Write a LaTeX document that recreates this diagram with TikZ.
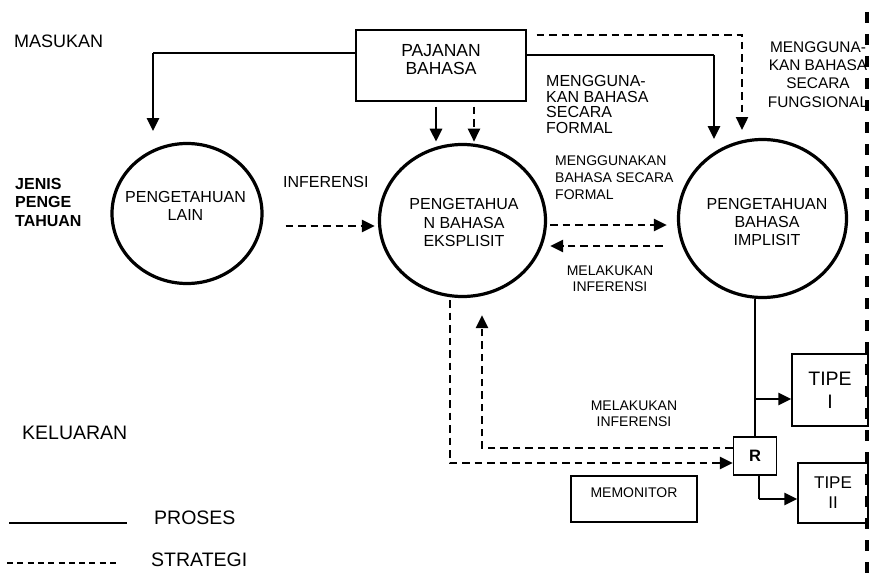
\documentclass[tikz,border=0pt]{standalone}
\usepackage{fontspec}
\setmainfont{Liberation Sans}
\usetikzlibrary{arrows.meta,shapes.geometric,calc}
\newcommand{\fsz}[2]{\fontsize{#1}{#2}\selectfont}

\begin{document}
\begin{tikzpicture}[x=1pt,y=-1pt,
  tx/.style={inner sep=0pt, align=center},
  box/.style={draw, line width=1.4pt, inner sep=0pt, align=center},
  circ/.style={ellipse, draw, line width=3.2pt, inner sep=0pt},
  pline/.style={line width=1.4pt},
  parrow/.style={line width=2.8pt, -{Triangle[length=13pt,width=12pt]}},
  sline/.style={line width=2.4pt, dash pattern=on 7.5pt off 5pt},
  sarrow/.style={sline, -{Triangle[length=13pt,width=12pt]}},
  legdash/.style={line width=2.2pt, dash pattern=on 6pt off 4.3pt},
  border/.style={line width=3.8pt, dash pattern=on 11pt off 11pt}]
\useasboundingbox (0,0) rectangle (870,578);

% row labels
\node[tx, anchor=west, font=\fsz{18}{18}] (mas) at (14,41) {MASUKAN};
\node[tx, anchor=west, align=left, font=\bfseries\fsz{16}{18.5}] (jenis) at (15,202) {JENIS\\PENGE\\TAHUAN};
\node[tx, anchor=west, font=\fsz{19.5}{20}] (kel) at (22,433) {KELUARAN};

% input box
\node[box, minimum width=170pt, minimum height=71pt] (paj) at (441,65.5) {};
\node[tx, font=\fsz{17.5}{18}] (pajt) at (441,60) {PAJANAN\\BAHASA};

% knowledge types
\node[circ, minimum width=150pt, minimum height=140pt] (lain) at (187,213.5) {};
\node[tx, font=\fsz{16}{17.5}] (laint) at (185.5,206) {PENGETAHUAN\\LAIN};
\node[circ, minimum width=166pt, minimum height=152pt] (eks) at (462.5,220.5) {};
\node[tx, font=\fsz{16}{18.3}] (ekst) at (464,222.5) {PENGETAHUA\\N BAHASA\\EKSPLISIT};
\node[circ, minimum width=168pt, minimum height=158pt] (imp) at (762.5,218.5) {};
\node[tx, font=\fsz{16}{18}] (impt) at (767,222) {PENGETAHUAN\\BAHASA\\IMPLISIT};

% arrow labels
\node[tx, anchor=west, align=left, font=\fsz{16}{15.7}] (formal1) at (546,104.5) {MENGGUNA-\\KAN BAHASA\\SECARA\\FORMAL};
\node[tx, font=\fsz{15.4}{18.3}] (fungs) at (818,74.5) {MENGGUNA-\\KAN BAHASA\\SECARA\\FUNGSIONAL};
\node[tx, anchor=west, font=\fsz{16}{16}] (inf1) at (283,182) {INFERENSI};
\node[tx, anchor=west, align=left, font=\fsz{14}{17}] (formal2) at (555,178) {MENGGUNAKAN\\BAHASA SECARA\\FORMAL};
\node[tx, font=\fsz{14}{16}] (inf2) at (610,279) {MELAKUKAN\\INFERENSI};
\node[tx, font=\fsz{14}{16}] (inf3) at (634,414) {MELAKUKAN\\INFERENSI};

% output part
\node[box, minimum width=43pt, minimum height=38pt, font=\bfseries\fsz{16.5}{16.5}] (R) at (755,456) {R};
\node[box, minimum width=76pt, minimum height=72pt, font=\fsz{19.5}{23}] (tipeI) at (830,390) {TIPE\\I};
\node[box, minimum width=70pt, minimum height=60pt, font=\fsz{17}{20}] (tipeII) at (833,493) {TIPE\\II};
\node[box, minimum width=126pt, minimum height=46pt] (mon) at (634,499) {};
\node[tx, font=\fsz{14}{14}] (mont) at (634,493) {MEMONITOR};

% legend
\node[tx, anchor=west, font=\fsz{19.5}{20}] (pro) at (154,518) {PROSES};
\node[tx, anchor=west, font=\fsz{19.5}{20}] (str) at (151,560) {STRATEGI};
\draw[pline] ($(pro.west)+(-145,5)$) -- +(118,0);
\draw[legdash] ($(str.west)+(-144,3)$) -- +(113,0);

% exposure to the knowledge types
\coordinate (cL) at (153,53);
\coordinate (inL) at (153,131);
\draw[pline] (paj.west |- cL) -- (cL);
\draw[parrow] (cL) -- (inL);
\coordinate (cR) at (714,55);
\coordinate (inR) at (714,139);
\draw[pline] (paj.east |- cR) -- (cR);
\draw[parrow] (cR) -- (inR);
\coordinate (dT) at (742,130);
\draw[sarrow] ($(paj.north east)+(10,5.5)$) -| (dT);
\draw[parrow] ($(paj.south)+(-5,5)$) -- +(0,35);
\draw[sarrow] ($(paj.south)+(33,5)$) -- +(0,35);

% strategies between the knowledge types
\draw[sarrow] ($(lain.east)+(22,12.5)$) -- ($(eks.west)+(-3,5.5)$);
\draw[sarrow] ($(eks.east)+(3,4.5)$) -- ($(imp.west)+(-10,6.5)$);
\draw[sarrow] ($(imp.west)+(-14,27.5)$) -- ($(eks.east)+(3,25.5)$);

% implicit knowledge to output
\draw[pline] (R.north |- imp.south) -- (R.north);
\coordinate (b1) at (755,399);
\draw[parrow] (b1) -- (tipeI.west |- b1);
\coordinate (c2) at (759,499);
\draw[pline] ($(R.south)+(4,0)$) -- (c2);
\draw[parrow] (c2) -- (tipeII.west |- c2);

% monitoring loop
\draw[sarrow] ($(eks.south)+(-12.5,2)$) |- ($(R.west)+(0,7)$);
\draw[sarrow] ($(R.west)+(0,-8)$) -| ($(eks.south)+(19.5,17)$);

% right border
\coordinate (bt) at (867,12);
\coordinate (bb) at (867,578);
\draw[border] (bt) -- (bb);
\end{tikzpicture}
\end{document}
